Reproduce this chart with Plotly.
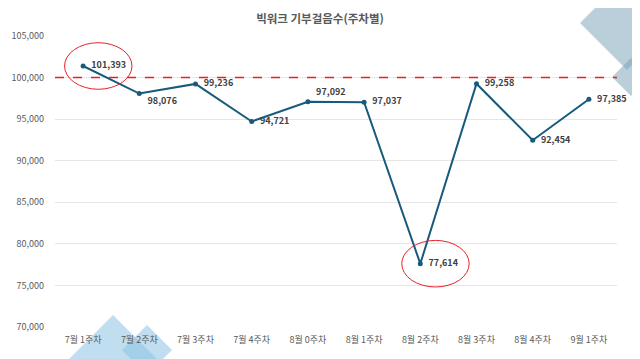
import plotly.graph_objects as go

# ---- data ----
weeks = ["7월 1주차", "7월 2주차", "7월 3주차", "7월 4주차", "8월 0주차",
         "8월 1주차", "8월 2주차", "8월 3주차", "8월 4주차", "9월 1주차"]
steps = [101393, 98076, 99236, 94721, 97092, 97037, 77614, 99258, 92454, 97385]
label_pos = ["middle right", "bottom right", "middle right", "middle right", "top right",
             "middle right", "middle right", "middle right", "middle right", "middle right"]
target = 100000
highlight = [0, 6]
title_text = "빅워크 기부걸음수(주차별)"
y_ticks = [70000, 75000, 80000, 85000, 90000, 95000, 100000, 105000]

FONT = "Noto Sans CJK KR, Noto Sans, sans-serif"
LINE_COLOR = "#175a7c"
TEXT_COLOR = "#595959"

fig = go.Figure()

fig.add_trace(go.Scatter(
    x=list(range(len(weeks))), y=steps,
    mode="lines+markers+text",
    line=dict(color=LINE_COLOR, width=2),
    marker=dict(color=LINE_COLOR, size=5),
    text=[f"  {v:,}" for v in steps],
    textposition=label_pos,
    textfont=dict(family=FONT, size=9, color="#404040", weight="bold"),
    cliponaxis=False,
    hoverinfo="skip",
))

shapes = []
# target dashed line
shapes.append(dict(type="line", xref="paper", yref="y", x0=0, x1=1,
                   y0=target, y1=target,
                   line=dict(color="#e82020", width=1.5, dash="dash"), layer="above"))
# highlight ellipses around selected points
for i in highlight:
    shapes.append(dict(type="circle", xref="x", yref="y",
                       x0=i - 0.33, x1=i + 0.87,
                       y0=steps[i] - 2800, y1=steps[i] + 2800,
                       line=dict(color="#e8202a", width=1), layer="above"))

# page body has an 8px margin, so the figure is sized / offset to compensate
OFF = 8
W, H = 640 - OFF, 359 - OFF
L, R, T, B = 55 - OFF, 23, 36 - OFF, 32
pw, ph = W - L - R, H - T - B

def px(x, y):
    # screen pixel -> paper coords
    x -= OFF
    y -= OFF
    return ((x - L) / pw, (H - B - y) / ph)

def diamond(cx, cy, r, color):
    pts = [px(cx, cy - r), px(cx + r, cy), px(cx, cy + r), px(cx - r, cy)]
    path = "M " + " L ".join(f"{a:.4f},{b:.4f}" for a, b in pts) + " Z"
    return dict(type="path", xref="paper", yref="paper", path=path,
                fillcolor=color, line=dict(width=0), layer="below")

shapes.append(diamond(113, 360, 45, "rgba(140,195,228,0.55)"))
shapes.append(diamond(147, 350, 25, "rgba(140,195,228,0.55)"))
shapes.append(diamond(627, 23, 47, "rgba(120,160,182,0.5)"))
shapes.append(diamond(631, 77, 19, "rgba(120,160,182,0.5)"))

fig.update_layout(
    width=W, height=H,
    margin=dict(l=L, r=R, t=T, b=B, autoexpand=False),
    paper_bgcolor="white", plot_bgcolor="rgba(0,0,0,0)",
    showlegend=False,
    title=dict(text=title_text, x=(320 - OFF) / W, xanchor="center",
               y=1 - (19 - OFF) / H, yanchor="middle",
               font=dict(family=FONT, size=11.5, color=TEXT_COLOR, weight="bold")),
    shapes=shapes,
    font=dict(family=FONT),
)
fig.update_xaxes(
    tickmode="array", tickvals=list(range(len(weeks))), ticktext=weeks,
    range=[-0.5, len(weeks) - 0.5],
    showgrid=False, zeroline=False, showline=False, automargin=False,
    tickfont=dict(family=FONT, size=9, color=TEXT_COLOR),
    ticks="", ticklabelstandoff=6,
)
fig.update_yaxes(
    range=[70000, 105000], tickvals=y_ticks, tickformat=",",
    showgrid=True, gridcolor="#e6e6e6", gridwidth=1,
    zeroline=False, showline=False, automargin=False,
    tickfont=dict(family=FONT, size=9, color=TEXT_COLOR),
    ticks="", ticklabelstandoff=10,
)

fig.write_html("out.html")
